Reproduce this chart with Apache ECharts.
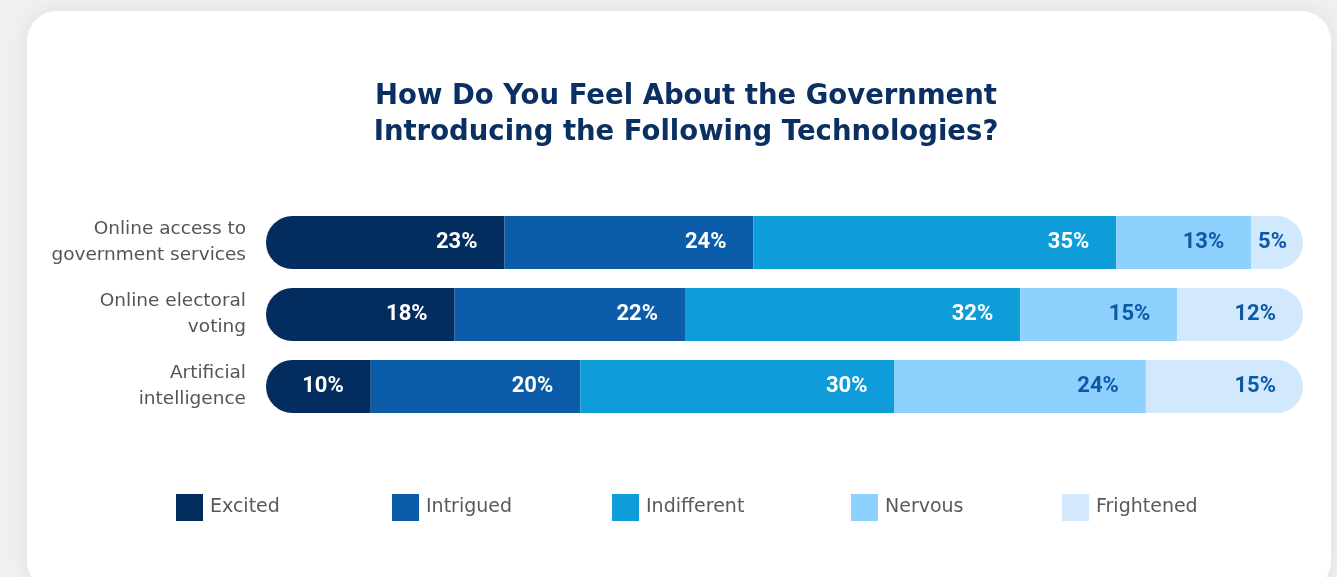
<!DOCTYPE html>
<html>
<head>
<meta charset="utf-8">
<script src="https://cdn.jsdelivr.net/npm/echarts@6/dist/echarts.min.js"></script>
<style>
  html, body { margin: 0; padding: 0; width: 1337px; height: 577px; overflow: hidden; background: #f0f0f0; }
  #card { position: absolute; left: 27px; top: 11px; width: 1304px; height: 580px; background: #ffffff;
          border-radius: 30px; box-shadow: 0 0 22px rgba(0,0,0,0.07); }
  #chart { position: absolute; left: 0; top: 0; width: 1337px; height: 577px; }
</style>
</head>
<body>
<div id="card"></div>
<div id="chart"></div>
<script>
// Survey responses per technology (percent of respondents)
const categories = ['Online access to\ngovernment services', 'Online electoral\nvoting', 'Artificial\nintelligence'];
const seriesNames = ['Excited', 'Intrigued', 'Indifferent', 'Nervous', 'Frightened'];
const excited     = [23, 18, 10];
const intrigued   = [24, 22, 20];
const indifferent = [35, 32, 30];
const nervous     = [13, 15, 24];
const frightened  = [5, 12, 15];

const values = [excited, intrigued, indifferent, nervous, frightened];
const colors = ['#032c5f', '#0b5ca9', '#0e9dd8', '#8fd1fe', '#d2e8fd'];
const labelColors = ['#ffffff', '#ffffff', '#ffffff', '#0c5aa6', '#0c5aa6'];
const legendLeft = [176, 392, 612, 851, 1062];

// each row is scaled to its own total so every bar spans the full width
const rowTotals = categories.map((_, i) => values.reduce((s, arr) => s + arr[i], 0));

const R = 26.5;
const series = values.map((arr, si) => ({
  name: seriesNames[si],
  type: 'bar',
  stack: 'total',
  barWidth: 53,
  itemStyle: {
    color: colors[si],
    borderRadius: si === 0 ? [R, 0, 0, R] : (si === values.length - 1 ? [0, R, R, 0] : 0)
  },
  label: {
    show: true,
    position: 'insideRight',
    distance: 27,
    color: labelColors[si],
    fontFamily: 'Roboto',
    fontWeight: 'bold',
    fontSize: 22,
    formatter: p => p.data.raw + '%'
  },
  data: arr.map((v, i) => {
    const item = { value: v / rowTotals[i] * 100, raw: v };
    if (si === values.length - 1 && v < 8) item.label = { distance: 16 };
    return item;
  })
}));

const chart = echarts.init(document.getElementById('chart'), null, { renderer: 'canvas' });
chart.setOption({
  backgroundColor: 'transparent',
  animation: false,
  title: {
    text: 'How Do You Feel About the Government\nIntroducing the Following Technologies?',
    left: 686,
    textAlign: 'center',
    top: 79,
    padding: 0,
    textStyle: {
      color: '#0a2f62',
      fontFamily: 'DejaVu Sans',
      fontWeight: 'bold',
      fontSize: 27.5,
      lineHeight: 36
    }
  },
  legend: seriesNames.map((n, i) => ({
    data: [n],
    left: legendLeft[i],
    top: 494,
    padding: 0,
    icon: 'rect',
    itemWidth: 27,
    itemHeight: 27,
    selectedMode: false,
    textStyle: { color: '#58595b', fontFamily: 'DejaVu Sans', fontSize: 19, padding: [0, 0, 0, 2] }
  })),
  grid: { left: 266, right: 34, top: 206.5, height: 216, containLabel: false },
  xAxis: {
    type: 'value', min: 0, max: 100, show: false
  },
  yAxis: {
    type: 'category',
    data: categories,
    inverse: true,
    axisLine: { show: false },
    axisTick: { show: false },
    axisLabel: {
      margin: 20,
      color: '#555558',
      fontFamily: 'DejaVu Sans',
      fontSize: 18.5,
      lineHeight: 26,
      align: 'right'
    }
  },
  series: series
});
</script>
</body>
</html>
